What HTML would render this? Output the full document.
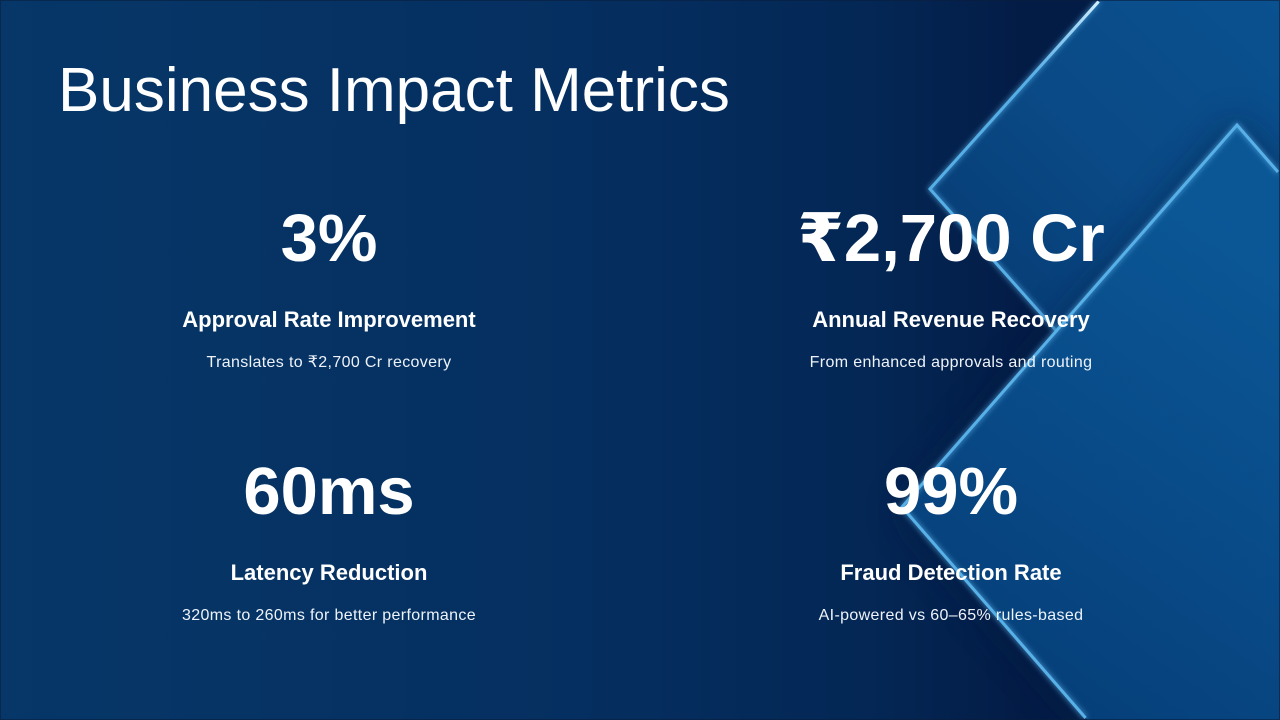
<!DOCTYPE html>
<html>
<head>
<meta charset="utf-8">
<style>
  html, body { margin:0; padding:0; width:1280px; height:720px; overflow:hidden; }
  body { position:relative; background:#053566; font-family:"Liberation Sans", "DejaVu Sans", sans-serif; color:#fff; }
  svg.bg { position:absolute; left:0; top:0; display:block; overflow:hidden; }
  .t { position:absolute; white-space:nowrap; line-height:1; }
  .title { left:58px; top:59.5px; font-size:62px; font-weight:400; color:#fff; }
  .num { font-size:67px; font-weight:700; width:600px; text-align:center; }
  .hd { font-size:22px; font-weight:700; width:600px; text-align:center; }
  .sub { font-size:16px; font-weight:400; width:600px; text-align:center; letter-spacing:0.35px; color:#eef3fa; }
  .frame { position:absolute; left:0; top:0; width:1278px; height:718px; border:1px solid rgba(10,30,60,0.6); }
</style>
</head>
<body>
<svg class="bg" width="1280" height="720" viewBox="0 0 1280 720" xmlns="http://www.w3.org/2000/svg">
  <defs>
    <linearGradient id="bgG" x1="0" y1="0" x2="1280" y2="0" gradientUnits="userSpaceOnUse">
      <stop offset="0" stop-color="#063768"/>
      <stop offset="0.45" stop-color="#052f60"/>
      <stop offset="0.68" stop-color="#042755"/>
      <stop offset="0.8" stop-color="#031c46"/>
      <stop offset="1" stop-color="#031a42"/>
    </linearGradient>
    <linearGradient id="d1G" x1="960" y1="330" x2="1280" y2="0" gradientUnits="userSpaceOnUse">
      <stop offset="0" stop-color="#063a72"/>
      <stop offset="0.5" stop-color="#0a4a86"/>
      <stop offset="1" stop-color="#0a5190"/>
    </linearGradient>
    <linearGradient id="d2G" x1="1000" y1="650" x2="1280" y2="250" gradientUnits="userSpaceOnUse">
      <stop offset="0" stop-color="#06407a"/>
      <stop offset="0.5" stop-color="#094c8a"/>
      <stop offset="1" stop-color="#0b5796"/>
    </linearGradient>
    <filter id="glow" x="-20%" y="-20%" width="140%" height="140%">
      <feGaussianBlur stdDeviation="3" result="b"/>
      <feMerge><feMergeNode in="b"/><feMergeNode in="SourceGraphic"/></feMerge>
    </filter>
    <filter id="shad" x="-30%" y="-30%" width="160%" height="160%">
      <feGaussianBlur stdDeviation="18"/>
    </filter>
    <linearGradient id="hl" x1="1100" y1="0" x2="1030" y2="80" gradientUnits="userSpaceOnUse">
      <stop offset="0" stop-color="#d8f1ff" stop-opacity="1"/>
      <stop offset="1" stop-color="#9fd4f5" stop-opacity="0"/>
    </linearGradient>
  </defs>
  <rect x="0" y="0" width="1280" height="720" fill="url(#bgG)"/>
  <!-- diamond 1 (clipped) -->
  <polygon points="930,189 1100,0 1280,0 1280,582.75" fill="url(#d1G)"/>
  <polyline points="1098.6,1.5 930,189 1278,580" fill="none" stroke="#56aee6" stroke-width="3" filter="url(#glow)"/>
  <line x1="1098.6" y1="1.5" x2="1030" y2="78" stroke="url(#hl)" stroke-width="3"/>
  <!-- diamond 2 shadow (clipped) -->
  <polygon points="898,512 1237,118 1280,168 1280,720 1083,720" fill="#021a40" opacity="0.55" filter="url(#shad)"/>
  <!-- diamond 2 (clipped) -->
  <polygon points="902,507 1237,125 1280,174.4 1280,720 1087.3,720" fill="url(#d2G)"/>
  <polyline points="1085.6,718 902,507 1237,125 1278,172" fill="none" stroke="#58b0e8" stroke-width="3" filter="url(#glow)"/>
</svg>
<div class="frame"></div>

<div class="t title">Business Impact Metrics</div>

<div class="t num" style="left:29px; top:205.3px;">3%</div>
<div class="t hd" style="left:29px; top:309.4px;">Approval Rate Improvement</div>
<div class="t sub" style="left:29px; top:354.5px;">Translates to ₹2,700 Cr recovery</div>

<div class="t num" style="left:651px; top:205.3px;">₹2,700 Cr</div>
<div class="t hd" style="left:651px; top:309.4px;">Annual Revenue Recovery</div>
<div class="t sub" style="left:651px; top:354.5px;">From enhanced approvals and routing</div>

<div class="t num" style="left:29px; top:458.3px;">60ms</div>
<div class="t hd" style="left:29px; top:562.4px;">Latency Reduction</div>
<div class="t sub" style="left:29px; top:607.5px;">320ms to 260ms for better performance</div>

<div class="t num" style="left:651px; top:458.3px;">99%</div>
<div class="t hd" style="left:651px; top:562.4px;">Fraud Detection Rate</div>
<div class="t sub" style="left:651px; top:607.5px;">AI-powered vs 60–65% rules-based</div>
</body>
</html>
